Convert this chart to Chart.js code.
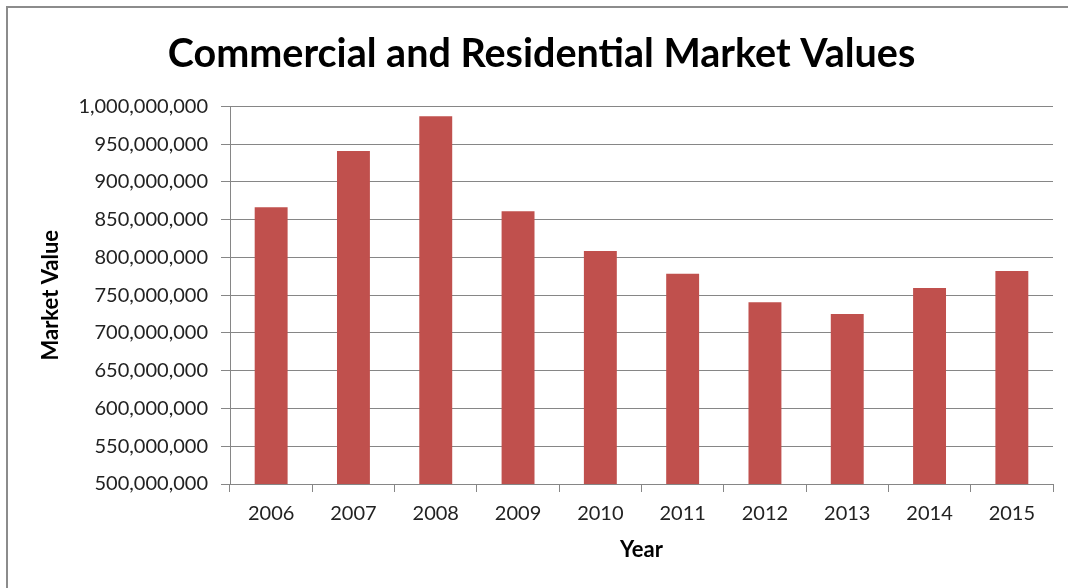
<!DOCTYPE html>
<html>
<head>
<meta charset="utf-8">
<script src="https://cdn.jsdelivr.net/npm/chart.js@4/dist/chart.umd.min.js"></script>
<style>
  html, body { margin: 0; padding: 0; background: #fff; }
  #wrap { width: 1068px; height: 588px; position: relative; }
</style>
</head>
<body>
<div id="wrap"><canvas id="chart" width="1068" height="588"></canvas></div>
<script>
// chart data
const years = ["2006", "2007", "2008", "2009", "2010", "2011", "2012", "2013", "2014", "2015"];
const marketValues = [866500000, 940800000, 987000000, 861000000, 808500000, 778500000, 740500000, 725000000, 759500000, 782000000];
const yMin = 500000000;
const yMax = 1000000000;
const yStep = 50000000;

const gray = "#868686";

// outer frame, only left and top edges show in the picture
const framePlugin = {
    id: "frame",
    beforeDraw(chart) {
        const ctx = chart.ctx;
        ctx.save();
        ctx.strokeStyle = "#8c8c8c";
        ctx.lineWidth = 2;
        ctx.beginPath();
        ctx.moveTo(7, 588);
        ctx.lineTo(7, 7);
        ctx.lineTo(1068, 7);
        ctx.stroke();
        ctx.restore();
    }
};

new Chart(document.getElementById("chart"), {
    type: "bar",
    data: {
        labels: years,
        datasets: [{
            label: "Market Value",
            data: marketValues,
            backgroundColor: "#C0504D",
            barPercentage: 0.4,
            categoryPercentage: 1.0
        }]
    },
    options: {
        responsive: false,
        animation: false,
        layout: { padding: { left: 30, right: 15, top: 0, bottom: 0 } },
        plugins: {
            legend: { display: false },
            tooltip: { enabled: false },
            title: {
                display: true,
                text: "Commercial and Residential Market Values",
                color: "#000",
                font: { family: "Lato", size: 39.5, weight: "bold" },
                padding: { top: 31, bottom: 28 }
            }
        },
        scales: {
            x: {
                afterFit(scale) { scale.height = 104; },
                grid: { drawOnChartArea: false, tickLength: 8, color: gray, offset: true },
                border: { color: gray, width: 1 },
                ticks: { color: "#222", padding: 10, font: { family: "Lato", size: 20 } },
                title: {
                    display: true,
                    text: "Year",
                    color: "#000",
                    font: { family: "Lato", size: 22, weight: "bold" },
                    padding: { top: 0, bottom: 25 }
                }
            },
            y: {
                min: yMin,
                max: yMax,
                afterFit(scale) { scale.width = 200; },
                grid: { color: gray, tickLength: 9 },
                border: { color: gray, width: 1 },
                ticks: {
                    stepSize: yStep,
                    color: "#222",
                    padding: 13,
                    font: { family: "Lato", size: 20 },
                    callback: v => v.toLocaleString("en-US")
                },
                title: {
                    display: true,
                    text: "Market Value",
                    color: "#000",
                    font: { family: "Lato", size: 22, weight: "bold" },
                    padding: { top: 8, bottom: 0 }
                }
            }
        }
    },
    plugins: [framePlugin]
});
</script>
</body>
</html>
